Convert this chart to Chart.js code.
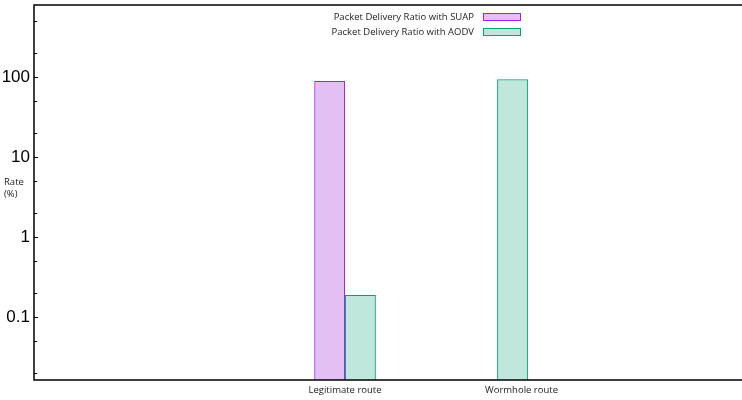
<!DOCTYPE html>
<html>
<head>
<meta charset="utf-8">
<script src="https://cdn.jsdelivr.net/npm/chart.js@4/dist/chart.umd.min.js"></script>
<style>
  html, body { margin: 0; padding: 0; background: #fff; }
</style>
</head>
<body>
<canvas id="pdr" width="742" height="400"></canvas>
<script>
// data
const routes = ['Legitimate route', 'Wormhole route'];
const seriesNames = ['Packet Delivery Ratio with SUAP', 'Packet Delivery Ratio with AODV'];
const suapRate = [89, null];      // no SUAP bar on the wormhole route
const aodvRate = [0.188, 93.8];
const yTickLabels = [0.1, 1, 10, 100];

const smallFont = '"Open Sans", "Noto Sans", sans-serif';

// minor ticks at 2 and 5 of every decade, majors at the labelled values
function logTicks(min, max) {
    const out = [];
    for (let e = -3; e <= 4; e++) {
        [1, 2, 5].forEach(m => {
            const v = +(m * Math.pow(10, e)).toPrecision(3);
            if (v >= min && v <= max) out.push({ value: v, major: m === 1 });
        });
    }
    return out;
}

// gnuplot-ish frame, inward ticks, legend and the unrotated axis title
const gnuplotLook = {
    id: 'gnuplotLook',
    afterDraw(chart) {
        const ctx = chart.ctx;
        const area = chart.chartArea;
        const y = chart.scales.y;
        ctx.save();

        ctx.strokeStyle = '#000';
        ctx.lineWidth = 1.5;
        ctx.strokeRect(area.left, area.top, area.right - area.left + 2, area.bottom - area.top);

        ctx.lineWidth = 1;
        y.ticks.forEach(t => {
            const py = Math.round(y.getPixelForValue(t.value)) + 0.5;
            ctx.beginPath();
            ctx.moveTo(area.left, py);
            ctx.lineTo(area.left + (t.major ? 4 : 3), py);
            ctx.stroke();
        });

        // legend: text on the left, sample box on the right
        ctx.font = '9.5px ' + smallFont;
        ctx.textAlign = 'right';
        ctx.textBaseline = 'middle';
        chart.data.datasets.forEach((ds, i) => {
            const cy = 17 + i * 15;
            ctx.fillStyle = '#222';
            ctx.fillText(ds.label, 474, cy);
            ctx.fillStyle = ds.backgroundColor;
            ctx.fillRect(483.5, cy - 3.5, 37, 7);
            ctx.strokeStyle = ds.borderColor;
            ctx.lineWidth = 1;
            ctx.strokeRect(483.5, cy - 3.5, 37, 7);
        });

        ctx.textAlign = 'left';
        ctx.fillStyle = '#222';
        ctx.fillText('Rate', 4, 182);
        ctx.fillText('(%)', 4, 194);
        ctx.restore();
    }
};

const chart = new Chart(document.getElementById('pdr').getContext('2d'), {
    type: 'bar',
    data: {
        datasets: [{
            label: seriesNames[0],
            data: suapRate.map((v, i) => ({ x: i, y: v })),
            backgroundColor: 'rgba(148, 0, 211, 0.25)',
            borderColor: '#a020f0',
            borderWidth: 1
        }, {
            label: seriesNames[1],
            data: aodvRate.map((v, i) => ({ x: i, y: v })),
            backgroundColor: 'rgba(0, 158, 115, 0.25)',
            borderColor: '#009e73',
            borderWidth: 1
        }]
    },
    options: {
        responsive: false,
        animation: false,
        devicePixelRatio: 1,
        categoryPercentage: 0.405,
        barPercentage: 1,
        layout: { padding: { top: 5, right: 0, left: 0, bottom: 0 } },
        plugins: {
            legend: { display: false },
            tooltip: { enabled: false }
        },
        scales: {
            x: {
                type: 'linear',
                offset: false,
                min: -2.045,
                max: 2.61,
                grid: { display: false, drawTicks: false },
                border: { display: false },
                afterBuildTicks: scale => {
                    // gnuplot put the second label a bit right of its cluster
                    scale.ticks = routes.map((r, i) => ({ value: i === 0 ? 0 : i + 0.16 }));
                },
                afterFit: scale => {
                    scale.height = 20;
                    scale.paddingLeft = 0;
                    scale.paddingRight = 0;
                },
                ticks: {
                    autoSkip: false,
                    maxRotation: 0,
                    padding: 5,
                    color: '#222',
                    font: { family: smallFont, size: 9.5 },
                    callback: v => routes[Math.round(v)]
                }
            },
            y: {
                type: 'logarithmic',
                min: 0.0163,
                max: 794,
                bounds: 'data',
                grid: { display: false, drawTicks: false },
                border: { display: false },
                afterBuildTicks: scale => { scale.ticks = logTicks(scale.min, scale.max); },
                afterFit: scale => {
                    scale.width = 34;
                    scale.paddingTop = 0;
                    scale.paddingBottom = 0;
                },
                ticks: {
                    padding: 4,
                    color: '#000',
                    font: { family: '"Liberation Sans", Arial, sans-serif', size: 17 },
                    callback: v => yTickLabels.includes(v) ? String(v) : ''
                }
            }
        }
    },
    plugins: [gnuplotLook]
});
</script>
</body>
</html>
